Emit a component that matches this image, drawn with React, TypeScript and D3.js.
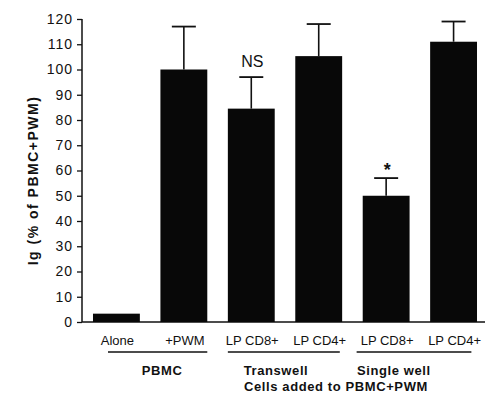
import React, { useRef, useEffect } from "react";
import * as d3 from "d3";

const categories = ["Alone", "+PWM", "LP CD8+ T", "LP CD4+ T", "LP CD8+ S", "LP CD4+ S"];
const tickLabels = ["Alone", "+PWM", "LP CD8+", "LP CD4+", "LP CD8+", "LP CD4+"];
const values = [3.3, 100, 84.5, 105.3, 50, 111];
const errors = [0, 17, 12.5, 12.7, 7, 8];
const marks = ["", "", "NS", "", "*", ""];
const groups = ["PBMC", "Transwell", "Single well"];
const groupMembers = [[0, 1], [2, 3], [4, 5]];
const yTicks = d3.range(0, 121, 10);
const yTitle = "Ig (% of PBMC+PWM)";
const footnote = "Cells added to PBMC+PWM";

const W = 486;
const H = 393;
const FONT = "'Liberation Sans', Arial, Helvetica, sans-serif";

const App = () => {
  const svgRef = useRef<SVGSVGElement>(null);

  useEffect(() => {
    const svg = d3.select(svgRef.current);
    svg.selectAll("*").remove();

    const x = d3.scaleBand().domain(categories).range([82, 488]).paddingInner(0.305).paddingOuter(0.163);
    const y = d3.scaleLinear().domain([0, 120]).range([322, 19]);
    const bw = x.bandwidth();

    // y axis
    const yAxis = d3.axisLeft(y).tickValues(yTicks).tickSize(5).tickPadding(4);
    const ya = svg.append("g").attr("transform", "translate(82,0)").call(yAxis);
    ya.select(".domain").attr("stroke", "#111").attr("stroke-width", 1.5).attr("d", `M0,${y(0)}V${y(120)}`);
    ya.selectAll(".tick line").attr("stroke", "#111").attr("stroke-width", 1.3);
    ya.selectAll(".tick text")
      .attr("font-family", FONT)
      .attr("font-size", 14)
      .attr("letter-spacing", 1)
      .attr("fill", "#111");

    // x axis line
    svg.append("line")
      .attr("x1", 82).attr("x2", 485)
      .attr("y1", y(0)).attr("y2", y(0))
      .attr("stroke", "#111").attr("stroke-width", 1.5);

    // bars
    svg.selectAll(".bar")
      .data(values)
      .enter()
      .append("rect")
      .attr("x", (d, i) => x(categories[i])!)
      .attr("width", bw)
      .attr("y", (d) => y(d))
      .attr("height", (d) => y(0) - y(d))
      .attr("fill", "#080808");

    // error bars
    const eb = svg.selectAll(".err")
      .data(values.map((v, i) => ({ v, e: errors[i], c: categories[i] })).filter((d) => d.e > 0))
      .enter()
      .append("g");
    eb.append("line")
      .attr("x1", (d) => x(d.c)! + bw / 2).attr("x2", (d) => x(d.c)! + bw / 2)
      .attr("y1", (d) => y(d.v)).attr("y2", (d) => y(d.v + d.e))
      .attr("stroke", "#111").attr("stroke-width", 1.6);
    eb.append("line")
      .attr("x1", (d) => x(d.c)! + bw / 2 - 12).attr("x2", (d) => x(d.c)! + bw / 2 + 12)
      .attr("y1", (d) => y(d.v + d.e)).attr("y2", (d) => y(d.v + d.e))
      .attr("stroke", "#111").attr("stroke-width", 1.8);

    // significance marks
    marks.forEach((m, i) => {
      if (!m) return;
      svg.append("text")
        .attr("x", x(categories[i])! + bw / 2 + 1)
        .attr("y", y(values[i] + errors[i]) - (m === "*" ? 2 : 10))
        .attr("text-anchor", "middle")
        .attr("font-family", FONT)
        .attr("font-size", m === "*" ? 18 : 16)
        .attr("font-weight", m === "*" ? "bold" : "normal")
        .attr("fill", "#111")
        .text(m);
    });

    // category labels
    svg.selectAll(".cat")
      .data(tickLabels)
      .enter()
      .append("text")
      .attr("x", (d, i) => x(categories[i])! + bw / 2 + 1)
      .attr("y", 345)
      .attr("text-anchor", "middle")
      .attr("font-family", FONT)
      .attr("font-size", 13)
      .attr("fill", "#111")
      .text((d) => d);

    // group underlines + labels
    const lineStart = [0.32, 0, -0.13];
    const lineEnd = [1, 0.95, 0.88];
    const labelShift = [12, -9, -26];
    groupMembers.forEach((mem, gi) => {
      const x0 = x(categories[mem[0]])! + bw * lineStart[gi];
      const x1 = x(categories[mem[mem.length - 1]])! + bw * lineEnd[gi];
      svg.append("line")
        .attr("x1", x0).attr("x2", x1)
        .attr("y1", 352).attr("y2", 352)
        .attr("stroke", "#111").attr("stroke-width", 1.5);
      const cx = (x(categories[mem[0]])! + x(categories[mem[mem.length - 1]])! + bw) / 2 + labelShift[gi];
      svg.append("text")
        .attr("x", cx)
        .attr("y", 375)
        .attr("text-anchor", "middle")
        .attr("font-family", FONT)
        .attr("font-size", 13)
        .attr("font-weight", "bold")
        .attr("letter-spacing", 0.6)
        .attr("fill", "#111")
        .text(groups[gi]);
    });

    svg.append("text")
      .attr("x", 336)
      .attr("y", 391)
      .attr("text-anchor", "middle")
      .attr("font-family", FONT)
      .attr("font-size", 13)
      .attr("font-weight", "bold")
      .attr("letter-spacing", 0.6)
      .attr("fill", "#111")
      .text(footnote);

    // y title
    svg.append("text")
      .attr("transform", `translate(38,${(y(0) + y(120)) / 2 + 10}) rotate(-90)`)
      .attr("text-anchor", "middle")
      .attr("font-family", FONT)
      .attr("font-size", 14)
      .attr("font-weight", "bold")
      .attr("letter-spacing", 1.5)
      .attr("fill", "#111")
      .text(yTitle);
  }, []);

  return (
    <svg
      ref={svgRef}
      width={W}
      height={H}
      style={{ position: "absolute", left: 0, top: 0, background: "#fff" }}
    />
  );
};

export default App;
